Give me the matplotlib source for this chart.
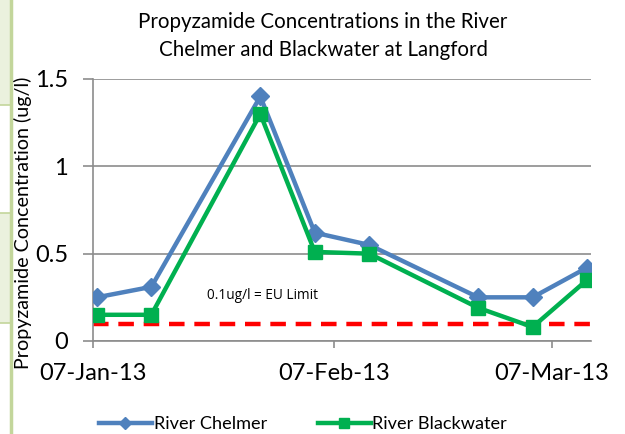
import datetime as dt

import matplotlib
matplotlib.use("Agg")
import matplotlib.pyplot as plt
from matplotlib.patches import Rectangle
from matplotlib.lines import Line2D

# Sample dates (weekly Mondays) and concentrations in ug/l
dates = ["2013-01-07", "2013-01-14", "2013-01-28", "2013-02-04",
         "2013-02-11", "2013-02-25", "2013-03-04", "2013-03-11"]
chelmer = [0.25, 0.31, 1.40, 0.62, 0.55, 0.25, 0.25, 0.42]
blackwater = [0.15, 0.15, 1.30, 0.51, 0.50, 0.19, 0.08, 0.35]
eu_limit = 0.1
tick_dates = ["2013-01-07", "2013-02-07", "2013-03-07"]
tick_labels = ["07-Jan-13", "07-Feb-13", "07-Mar-13"]
y_ticks = [0, 0.5, 1, 1.5]
y_labels = ["0", "0.5", "1", "1.5"]

BLUE, GREEN, RED, GRID = "#4f81bd", "#00b050", "#ff0000", "#8c8c8c"
FONT = "Lato"

plt.rcParams.update({"font.family": FONT})


def _day(s):
    return dt.datetime.strptime(s, "%Y-%m-%d")


# Excel puts each point in the middle of its day
xs = [_day(d) + dt.timedelta(hours=12) for d in dates]

fig = plt.figure(figsize=(6.25, 4.34), dpi=100)
ax = fig.add_axes([0.1488, 0.2143, 0.7968, 0.6037])

# left-edge page decoration (table cells behind the chart)
for y0, y1 in ((0, 105), (213, 323)):
    fig.patches.append(Rectangle((0, 1 - y1 / 434), 10 / 625, (y1 - y0) / 434,
                                 transform=fig.transFigure, facecolor="#ebf1de",
                                 edgecolor="none", zorder=0))
for yy in (105, 213, 323):
    fig.lines.append(Line2D([0, 10 / 625], [1 - yy / 434] * 2, transform=fig.transFigure,
                            color="#c3d69b", lw=1.2))
fig.lines.append(Line2D([11 / 625] * 2, [0, 1], transform=fig.transFigure,
                        color="#c3d69b", lw=2.5))

ax.plot(xs, chelmer, color=BLUE, lw=3.2, marker="D", ms=9, label="River Chelmer",
        zorder=3)
ax.plot(xs, blackwater, color=GREEN, lw=3.2, marker="s", ms=10.5,
        label="River Blackwater", zorder=4)
x0 = _day(dates[0])
x1 = _day(dates[-1]) + dt.timedelta(days=1)
ax.plot([x0, x1], [eu_limit, eu_limit], color=RED, lw=3.2, ls=(0, (3.5, 2.2)),
        zorder=2)
ax.text(_day("2013-01-21") + dt.timedelta(hours=16), 0.26, "0.1ug/l = EU Limit",
        fontsize=9.8, va="center", ha="left", family="Open Sans")

ax.set_xlim(x0, x1)
ax.set_ylim(0, 1.5)
ax.set_yticks(y_ticks)
ax.set_yticklabels(y_labels, fontsize=17)
ax.set_xticks([_day(d) for d in tick_dates])
ax.set_xticklabels(tick_labels, fontsize=17)
ax.grid(axis="y", color=GRID, lw=1.2)
ax.set_axisbelow(True)
for side in ("top", "right"):
    ax.spines[side].set_visible(False)
for side in ("left", "bottom"):
    ax.spines[side].set_color(GRID)
    ax.spines[side].set_linewidth(1.2)
ax.tick_params(axis="y", length=7, width=1.2, color=GRID, pad=11)
ax.tick_params(axis="x", length=5, width=1.2, color=GRID, pad=11)

fig.text(0.517, 0.917, "Propyzamide Concentrations in the River\nChelmer and Blackwater at Langford",
         ha="center", va="center", fontsize=14.8, linespacing=1.5)
fig.text(0.037, 0.486, "Propyzamide Concentration (ug/l)", rotation=90,
         ha="center", va="center", fontsize=14.2)

fig.legend(loc="center", bbox_to_anchor=(0.485, 0.023), ncol=2, frameon=False,
           fontsize=13.1, handlelength=2.9, handletextpad=0.1, columnspacing=2.8,
           markerscale=0.7)

fig.savefig("out.png", dpi=100)
